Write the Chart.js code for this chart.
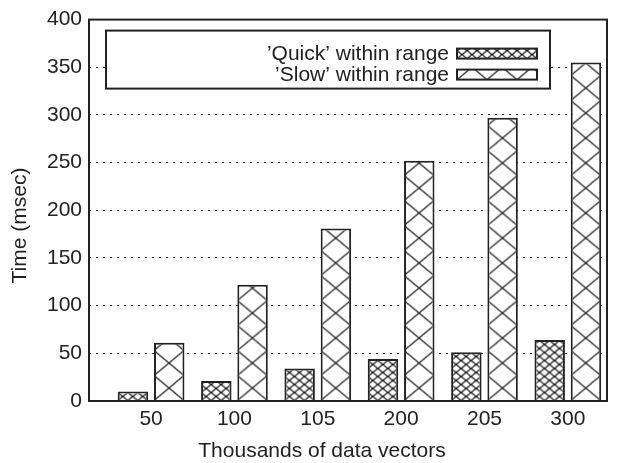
<!DOCTYPE html>
<html>
<head>
<meta charset="utf-8">
<script src="https://cdn.jsdelivr.net/npm/chart.js@4.4.1/dist/chart.umd.min.js"></script>
<style>
  html, body { margin: 0; padding: 0; background: #fff; }
  #wrap { width: 628px; height: 463px; }
</style>
</head>
<body>
<div id="wrap"><canvas id="grafico"></canvas></div>
<script>
// data
var categorias = ["50", "100", "105", "200", "205", "300"];
var quickValores = [10, 21, 34, 44, 51, 64];
var slowValores = [61, 122, 181, 252, 297, 355];
var serieNomes = ["\u2019Quick\u2019 within range", "\u2019Slow\u2019 within range"];
var yTicks = [0, 50, 100, 150, 200, 250, 300, 350, 400];
var tituloX = "Thousands of data vectors";
var tituloY = "Time (msec)";

var FONTE = "'Liberation Sans', Arial, sans-serif";
var TAM = 21;
var COR_TEXTO = "#222";
var COR_LINHA = "#222";

// tiles of the two crosshatch patterns (w x h)
var tiles = [
  { w: 10, h: 8.4 },
  { w: 30, h: 25 }
];

function criaTile(t) {
  var c = document.createElement("canvas");
  c.width = t.w;
  c.height = Math.round(t.h);
  var g = c.getContext("2d");
  g.fillStyle = "#fff";
  g.fillRect(0, 0, c.width, c.height);
  g.strokeStyle = "#111";
  g.lineWidth = 1.2;
  g.beginPath();
  g.moveTo(-c.width, -c.height); g.lineTo(2 * c.width, 2 * c.height);
  g.moveTo(2 * c.width, -c.height); g.lineTo(-c.width, 2 * c.height);
  g.stroke();
  return c;
}

var tileCanvas = tiles.map(criaTile);
var padroes = {};

function pegaPadrao(ds, idx) {
  var key = ds + "_" + idx;
  if (!padroes[key]) {
    var ctx = document.getElementById("grafico").getContext("2d");
    padroes[key] = ctx.createPattern(tileCanvas[ds], "repeat");
  }
  return padroes[key];
}

// align each bar's hatch to its own left/bottom edge
var alinhaPadroes = {
  id: "alinhaPadroes",
  beforeDatasetsDraw(chart) {
    chart.data.datasets.forEach(function (d, ds) {
      chart.getDatasetMeta(ds).data.forEach(function (el, idx) {
        var p = pegaPadrao(ds, idx);
        p.setTransform(new DOMMatrix().translate(el.x - el.width / 2, el.base));
      });
    });
  }
};

var moldura = {
  id: "moldura",
  afterDatasetsDraw(chart) {
    var a = chart.chartArea;
    var ctx = chart.ctx;
    ctx.save();
    ctx.strokeStyle = COR_LINHA;
    ctx.lineWidth = 2;
    ctx.strokeRect(a.left, a.top, a.right - a.left, a.bottom - a.top);

    // axis titles (gnuplot centres them on the page, not the plot)
    ctx.font = TAM + "px " + FONTE;
    ctx.fillStyle = COR_TEXTO;
    ctx.textAlign = "center";
    ctx.textBaseline = "middle";
    ctx.fillText(tituloX, chart.width / 2 + 8, chart.height - 12);
    ctx.save();
    ctx.translate(20, chart.height / 2 - 6);
    ctx.rotate(-Math.PI / 2);
    ctx.fillText(tituloY, 0, 0);
    ctx.restore();

    // legend box like gnuplot's key
    var bx = a.left + 17, by = a.top + 11, bw = 444, bh = 58;
    ctx.fillStyle = "#fff";
    ctx.fillRect(bx, by, bw, bh);
    ctx.strokeRect(bx, by, bw, bh);
    ctx.textAlign = "right";
    chart.data.datasets.forEach(function (d, i) {
      var cy = by + 23 + i * 21;
      ctx.fillStyle = COR_TEXTO;
      ctx.fillText(d.label, bx + 343, cy + 1);
      var sx = bx + 351, sy = cy - 5, sw = 80, sh = 10;
      var p = ctx.createPattern(tileCanvas[i], "repeat");
      p.setTransform(new DOMMatrix().translate(sx, sy + sh));
      ctx.fillStyle = p;
      ctx.fillRect(sx, sy, sw, sh);
      ctx.lineWidth = 2;
      ctx.strokeRect(sx, sy, sw, sh);
    });
    ctx.restore();
  }
};

function montaDados(valores) {
  return valores.map(function (v, i) { return { x: i, y: v }; });
}

var ctx = document.getElementById("grafico").getContext("2d");
var myChart = new Chart(ctx, {
  type: "bar",
  data: {
    datasets: [
      {
        label: serieNomes[0],
        data: montaDados(quickValores),
        backgroundColor: function (c) { return pegaPadrao(c.datasetIndex, c.dataIndex); },
        borderColor: COR_LINHA,
        borderWidth: 2,
        barPercentage: 0.84,
        categoryPercentage: 0.87,
      },
      {
        label: serieNomes[1],
        data: montaDados(slowValores),
        backgroundColor: function (c) { return pegaPadrao(c.datasetIndex, c.dataIndex); },
        borderColor: COR_LINHA,
        borderWidth: 2,
        barPercentage: 0.84,
        categoryPercentage: 0.87,
      },
    ],
  },
  options: {
    responsive: true,
    maintainAspectRatio: false,
    animation: false,
    layout: { padding: { left: 0, right: 21, top: 18, bottom: 0 } },
    plugins: {
      legend: { display: false },
      tooltip: { enabled: false },
    },
    scales: {
      x: {
        type: "linear",
        offset: false,
        min: -0.745,
        max: 5.47,
        grid: { display: false, drawTicks: false },
        border: { display: false },
        afterBuildTicks: function (axis) {
          axis.ticks = categorias.map(function (c, i) { return { value: i }; });
        },
        afterFit: function (axis) { axis.height = 62; },
        ticks: {
          padding: 6,
          color: COR_TEXTO,
          font: { family: FONTE, size: TAM },
          maxRotation: 0,
          callback: function (v) { return categorias[v]; },
        },
        title: { display: false },
      },
      y: {
        min: 0,
        max: 400,
        afterBuildTicks: function (axis) {
          axis.ticks = yTicks.map(function (v) { return { value: v }; });
        },
        afterFit: function (axis) { axis.width = 89; },
        grid: {
          drawTicks: false,
          color: function (c) {
            return c.tick && (c.tick.value === 0 || c.tick.value === 400) ? "rgba(0,0,0,0)" : "#333";
          },
          lineWidth: 1,
        },
        border: { display: false, dash: [2, 5] },
        ticks: {
          padding: 7,
          color: COR_TEXTO,
          font: { family: FONTE, size: TAM },
        },
        title: { display: false },
      },
    },
  },
  plugins: [alinhaPadroes, moldura],
});
</script>
</body>
</html>
